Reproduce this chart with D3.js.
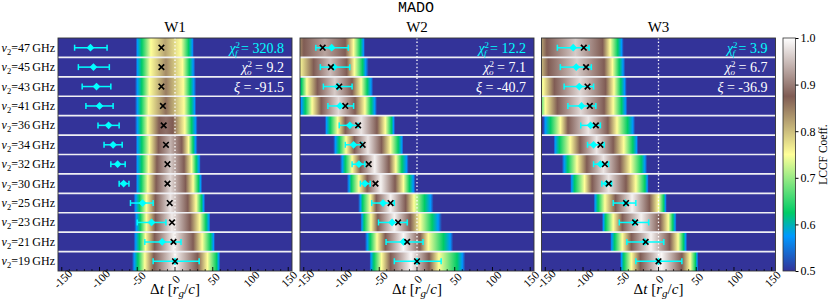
<!DOCTYPE html>
<html>
<head>
<meta charset="utf-8">
<script src="https://cdn.jsdelivr.net/npm/d3@7"></script>
<style>
  body { margin: 0; background: #fff; }
  text { font-family: "Liberation Serif", "DejaVu Serif", serif; }
</style>
</head>
<body>
<div id="chart"></div>
<script>

// rows, top to bottom
const freqs = [47, 45, 43, 41, 36, 34, 32, 30, 25, 23, 21, 19];

// LCCF profile of each row, read off the colour bands:
// dt where the LCCF rises through each level, the peak [dt, value], dt where it falls back down
const levels = [0.5, 0.575, 0.625, 0.75, 0.875];

const w1Up = [[-52,-50,-44,-32], [-52,-50,-44,-33], [-53,-50,-44,-34], [-53,-50,-45,-35],
    [-53,-50,-45,-36,-21], [-52,-50,-44,-34,-22], [-52,-50,-44,-35,-24], [-52,-50,-45,-36,-25],
    [-55,-52,-47,-38,-26], [-54,-51,-46,-38,-26], [-55,-52,-47,-39,-27], [-57,-54,-49,-40,-28]];
const w1Peak = [[-13,0.82], [-12,0.84], [-12,0.85], [-12,0.86], [-12,0.89], [-6,0.94],
    [-6,0.96], [-6,0.97], [-6,0.98], [-4,0.985], [-2,0.99], [0,0.99]];
const w1Down = [[8,18,23,25], [10,19,24,27], [11,20,25,28], [12,21,26,28],
    [-3,13,22,27,30], [9,18,24,27,30], [12,22,28,32,34], [14,24,31,34,36],
    [17,28,35,38,40], [20,33,41,45,47], [24,36,47,51,53], [30,43,55,58,60]];

const w2Up = [[-200,-195,-190,-168,-150], [-172,-169,-165,-156,-137], [-160,-157,-153,-146,-132], [-156,-153,-148,-139,-127],
    [-122,-120,-115,-105,-95], [-111,-108,-103,-94,-83], [-102,-99,-95,-86,-75], [-93,-90,-87,-77,-66],
    [-78,-75,-72,-62,-54], [-75,-73,-70,-61,-52], [-69,-66,-62,-53,-42], [-63,-61,-57,-47,-35]];
const w2Peak = [[-122,0.93], [-115,0.95], [-109,0.96], [-104,0.97], [-74,0.98], [-65,0.98],
    [-56,0.99], [-48,0.99], [-35,0.99], [-30,0.99], [-18,0.995], [-8,0.995]];
const w2Down = [[-95,-84,-75,-71,-69], [-93,-83,-72,-68,-64], [-86,-74,-66,-61,-58], [-82,-69,-61,-56,-53],
    [-53,-42,-34,-31,-29], [-47,-35,-25,-20,-18], [-37,-28,-20,-14,-11], [-29,-18,-10,-5,-2],
    [-15,-4,10,18,22], [-9,4,20,28,33], [4,15,35,44,48], [16,29,53,60,64]];

const w3Up = [[-190,-183,-178,-165,-148], [-185,-178,-173,-162,-146], [-172,-168,-163,-153,-138], [-168,-163,-158,-150,-134],
    [-153,-150,-143,-130,-120], [-139,-137,-131,-117,-104], [-128,-125,-120,-108,-95], [-117,-115,-111,-98,-88],
    [-86,-84,-80,-71,-57], [-75,-73,-70,-60,-48], [-64,-62,-58,-48,-36], [-51,-49,-46,-36,-24]];
const w3Peak = [[-110,0.96], [-108,0.96], [-104,0.97], [-103,0.97], [-93,0.98], [-82,0.98],
    [-73,0.98], [-66,0.98], [-35,0.99], [-23,0.99], [-10,0.99], [4,0.995]];
const w3Down = [[-74,-64,-54,-49,-46], [-72,-61,-52,-47,-44], [-70,-59,-50,-45,-42], [-72,-60,-49,-44,-41],
    [-67,-55,-41,-34,-31], [-60,-46,-34,-29,-27], [-51,-37,-23,-18,-15], [-43,-30,-18,-15,-13],
    [-12,0,7,9,11], [2,13,19,22,24], [15,26,33,36,38], [31,42,49,51,53]];

// cyan points with error bars, black crosses
const w1Lag = [-112,-108,-104,-100,-88,-82,-76,-68,-43,-31,-17,0];
const w1Lo = [-133,-128,-123,-118,-102,-94,-85,-74,-59,-50,-40,-29];
const w1Hi = [-90,-87,-85,-82,-74,-70,-66,-61,-29,-12,8,32];
const w1Cross = [-18,-18,-18,-16,-15,-12,-10,-10,-7,-4,-2,0];

const w2Lag = [-113,-110,-105,-102,-89,-84,-77,-69,-45,-33,-18,0];
const w2Lo = [-134,-128,-124,-118,-103,-95,-86,-75,-60,-51,-41,-30];
const w2Hi = [-91,-89,-86,-84,-78,-73,-69,-62,-30,-13,8,32];
const w2Cross = [-125,-114,-103,-95,-78,-72,-64,-55,-35,-25,-13,0];

const w3Lag = [-113,-109,-105,-102,-90,-86,-77,-69,-44,-32,-18,0];
const w3Lo = [-134,-130,-125,-120,-103,-94,-86,-75,-60,-52,-42,-30];
const w3Hi = [-92,-89,-86,-83,-77,-72,-66,-62,-30,-13,7,31];
const w3Cross = [-99,-96,-94,-91,-83,-77,-71,-66,-43,-31,-17,0];

const panelNames = ['W1', 'W2', 'W3'];
const chiF = ['320.8', '12.2', '3.9'];
const chiO = ['9.2', '7.1', '6.7'];
const xiVals = ['-91.5', '-40.7', '-36.9'];

const xTicks = [-150, -100, -50, 0, 50, 100, 150];
const cbTicks = [0.5, 0.6, 0.7, 0.8, 0.9, 1.0];

// terrain colormap between 0.5 and 1
const cmapStops = [0.5, 0.575, 0.625, 0.75, 0.875, 1.0];
const cmapColors = ['#333399', '#0099ff', '#00cc66', '#ffff99', '#805c54', '#ffffff'];
const color = d3.scaleLinear().domain(cmapStops).range(cmapColors).clamp(true);

const panels = [
    {up: w1Up, peak: w1Peak, down: w1Down, lag: w1Lag, lo: w1Lo, hi: w1Hi, cross: w1Cross},
    {up: w2Up, peak: w2Peak, down: w2Down, lag: w2Lag, lo: w2Lo, hi: w2Hi, cross: w2Cross},
    {up: w3Up, peak: w3Peak, down: w3Down, lag: w3Lag, lo: w3Lo, hi: w3Hi, cross: w3Cross}
];

const panelLeft = [58, 300, 541.5];
const panelW = 234, panelH = 233, plotTop = 38;
const cyan = '#00ffff';

const svg = d3.select('#chart').append('svg')
    .attr('width', 830)
    .attr('height', 300);
const defs = svg.append('defs');

const x = d3.scaleLinear().domain([-155, 155]).range([0, panelW]);
const y = d3.scaleBand().domain(freqs).range([0, panelH]);

// title
svg.append('text')
    .attr('x', 416).attr('y', 12)
    .attr('text-anchor', 'middle')
    .style('font-family', '"Liberation Mono", "DejaVu Sans Mono", monospace')
    .style('font-size', '15px')
    .text('MADO');

const gx0 = x(-260), gx1 = x(260);

panels.forEach((p, i) => {
    let g = svg.append('g').attr('transform', `translate(${panelLeft[i]},${plotTop})`);

    // heat strips
    freqs.forEach((f, j) => {
        let n = p.down[j].length;
        let knots = p.up[j].map((d, k) => [d, levels[k]])
            .concat([p.peak[j]])
            .concat(p.down[j].map((d, k) => [d, levels[n - 1 - k]]));

        let grad = defs.append('linearGradient')
            .attr('id', `lccf${i}_${j}`)
            .attr('gradientUnits', 'userSpaceOnUse')
            .attr('x1', gx0).attr('x2', gx1).attr('y1', 0).attr('y2', 0);
        grad.selectAll('stop')
            .data(knots)
            .enter().append('stop')
            .attr('offset', d => (x(d[0]) - gx0) / (gx1 - gx0))
            .attr('stop-color', d => color(d[1]));

        g.append('rect')
            .attr('x', 0).attr('y', y(f))
            .attr('width', panelW).attr('height', y.bandwidth())
            .attr('fill', `url(#lccf${i}_${j})`);
    });

    // row separators
    g.selectAll('.sep')
        .data(freqs.slice(1))
        .enter().append('line')
        .attr('x1', 0).attr('x2', panelW)
        .attr('y1', d => y(d)).attr('y2', d => y(d))
        .attr('stroke', '#f0f0f4')
        .attr('stroke-width', 1.6);

    // zero line
    g.append('line')
        .attr('x1', x(0)).attr('x2', x(0))
        .attr('y1', 0).attr('y2', panelH)
        .attr('stroke', '#fff')
        .attr('stroke-width', 1.3)
        .attr('stroke-dasharray', '1.4,2.2');

    // error bars + diamonds
    let yc = f => y(f) + y.bandwidth() / 2;
    let eb = g.append('g').attr('stroke', cyan).attr('stroke-width', 1.5);
    freqs.forEach((f, j) => {
        eb.append('line').attr('x1', x(p.lo[j])).attr('x2', x(p.hi[j])).attr('y1', yc(f)).attr('y2', yc(f));
        eb.append('line').attr('x1', x(p.lo[j])).attr('x2', x(p.lo[j])).attr('y1', yc(f) - 3).attr('y2', yc(f) + 3);
        eb.append('line').attr('x1', x(p.hi[j])).attr('x2', x(p.hi[j])).attr('y1', yc(f) - 3).attr('y2', yc(f) + 3);
    });
    g.selectAll('.dia')
        .data(freqs)
        .enter().append('path')
        .attr('d', d3.symbol(d3.symbolSquare, 30)())
        .attr('transform', (f, j) => `translate(${x(p.lag[j])},${yc(f)}) rotate(45)`)
        .attr('fill', cyan);

    // crosses
    g.selectAll('.crs')
        .data(freqs)
        .enter().append('path')
        .attr('d', d3.symbol(d3.symbolX, 22)())
        .attr('transform', (f, j) => `translate(${x(p.cross[j])},${yc(f)})`)
        .attr('fill', 'none')
        .attr('stroke', '#000')
        .attr('stroke-width', 1.6);

    // frame
    g.append('rect')
        .attr('width', panelW).attr('height', panelH)
        .attr('fill', 'none').attr('stroke', '#333').attr('stroke-width', 0.9);

    // x axis, inward ticks
    let minor = d3.range(-150, 151, 10).filter(d => d % 50 !== 0);
    g.selectAll('.mt')
        .data(minor)
        .enter().append('line')
        .attr('x1', d => x(d)).attr('x2', d => x(d))
        .attr('y1', panelH).attr('y2', panelH - 2)
        .attr('stroke', '#000').attr('stroke-width', 0.7);
    g.selectAll('.Mt')
        .data(xTicks)
        .enter().append('line')
        .attr('x1', d => x(d)).attr('x2', d => x(d))
        .attr('y1', panelH).attr('y2', panelH - 4)
        .attr('stroke', '#000').attr('stroke-width', 0.9);
    g.selectAll('.tl')
        .data(xTicks)
        .enter().append('text')
        .attr('transform', d => `translate(${x(d) + 1},${panelH + 8}) rotate(-45)`)
        .attr('text-anchor', 'middle')
        .attr('dy', '0.35em')
        .style('font-size', '11.5px')
        .text(d => d);

    // x label
    let xl = g.append('text')
        .attr('x', panelW / 2).attr('y', panelH + 23)
        .attr('text-anchor', 'middle')
        .style('font-size', '15px');
    xl.append('tspan').text('Δ');
    xl.append('tspan').style('font-style', 'italic').text('t');
    xl.append('tspan').text(' [');
    xl.append('tspan').style('font-style', 'italic').text('r');
    xl.append('tspan').style('font-style', 'italic').style('font-size', '11px').attr('dy', 3).text('g');
    xl.append('tspan').attr('dy', -3).text('/');
    xl.append('tspan').style('font-style', 'italic').text('c');
    xl.append('tspan').text(']');

    // panel title
    g.append('text')
        .attr('x', panelW / 2).attr('y', -6)
        .attr('text-anchor', 'middle')
        .style('font-size', '15px')
        .text(panelNames[i]);

    // fit stats
    let sx = panelW - 8;
    let chiLine = (row, sub, val, fill) => {
        let t = g.append('text')
            .attr('x', sx).attr('y', yc(freqs[row]) + 5)
            .attr('text-anchor', 'end')
            .attr('fill', fill)
            .style('font-size', '14px');
        t.append('tspan').style('font-style', 'italic').text('χ');
        t.append('tspan').attr('dy', -5).style('font-size', '9px').text('2');
        t.append('tspan').attr('dx', -5).attr('dy', 8).style('font-size', '9px').style('font-style', 'italic').text(sub);
        t.append('tspan').attr('dy', -3).text(' = ' + val);
    };
    chiLine(0, 'f', chiF[i], cyan);
    chiLine(1, 'o', chiO[i], '#fff');
    let xt = g.append('text')
        .attr('x', sx).attr('y', yc(freqs[2]) + 5)
        .attr('text-anchor', 'end')
        .attr('fill', '#fff')
        .style('font-size', '14px');
    xt.append('tspan').style('font-style', 'italic').text('ξ');
    xt.append('tspan').text(' = ' + xiVals[i]);

    // row labels on the first panel
    if (i === 0) {
        freqs.forEach(f => {
            let t = g.append('text')
                .attr('x', -3).attr('y', yc(f) + 4)
                .attr('text-anchor', 'end')
                .style('font-size', '12px');
            t.append('tspan').style('font-style', 'italic').text('ν');
            t.append('tspan').attr('dy', 3).style('font-size', '8.5px').text('2');
            t.append('tspan').attr('dy', -3).text('=' + f + '\u2009GHz');
        });
    }
});

// colorbar
const cbX = 783, cbW = 12.5;
const cy = d3.scaleLinear().domain([0.5, 1]).range([panelH, 0]);
let cbGrad = defs.append('linearGradient')
    .attr('id', 'cbgrad')
    .attr('x1', 0).attr('x2', 0).attr('y1', 1).attr('y2', 0);
cbGrad.selectAll('stop')
    .data(cmapStops)
    .enter().append('stop')
    .attr('offset', d => (d - 0.5) / 0.5)
    .attr('stop-color', d => color(d));

let cb = svg.append('g').attr('transform', `translate(${cbX},${plotTop})`);
cb.append('rect')
    .attr('width', cbW).attr('height', panelH)
    .attr('fill', 'url(#cbgrad)')
    .attr('stroke', '#333').attr('stroke-width', 0.8);
let cbAxis = cb.append('g')
    .attr('transform', `translate(${cbW},0)`)
    .call(d3.axisRight(cy).tickValues(cbTicks).tickFormat(d3.format('.1f')).tickSizeOuter(0).tickSize(3));
cbAxis.select('.domain').remove();
cbAxis.selectAll('text')
    .style('font-family', '"Liberation Serif", "DejaVu Serif", serif')
    .style('font-size', '12px')
    .attr('x', 5);

svg.append('text')
    .attr('transform', `translate(826.5,${plotTop + panelH / 2}) rotate(-90)`)
    .attr('text-anchor', 'middle')
    .style('font-size', '11.5px')
    .text('LCCF Coeff.');

</script>
</body>
</html>
